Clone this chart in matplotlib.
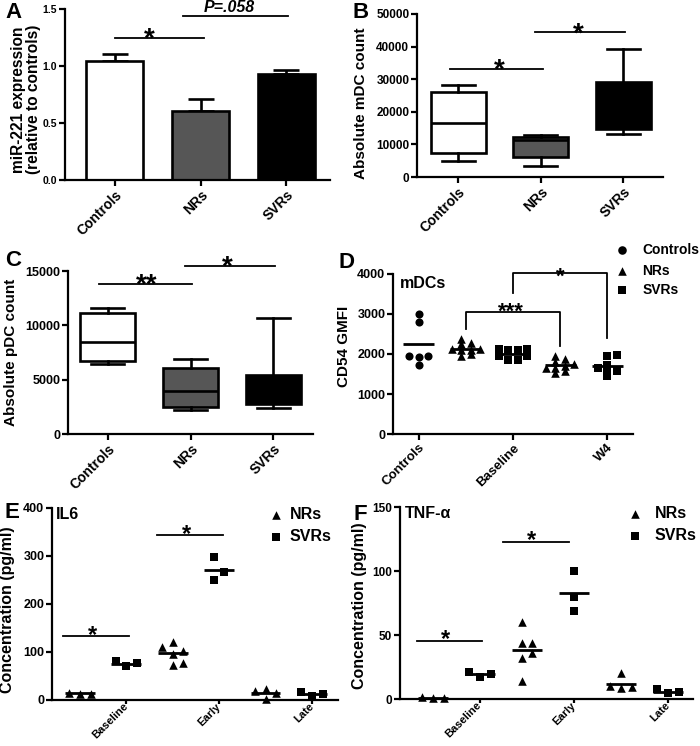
import matplotlib
matplotlib.use("Agg")
import matplotlib.pyplot as plt
import numpy as np
from matplotlib.transforms import offset_copy

plt.rcParams["font.family"] = ["Liberation Sans", "DejaVu Sans"]
plt.rcParams["font.weight"] = "bold"
plt.rcParams["axes.labelweight"] = "bold"

# ---- data ----
groups = ["Controls", "NRs", "SVRs"]

# A: miR-221 expression (mean, upper error bar)
mir221_mean = [1.044, 0.608, 0.93]
mir221_err = [0.058, 0.10, 0.035]

# B: absolute mDC count (whisker low, q1, median, q3, whisker high)
mdc_low = [5000, 3500, 13300]
mdc_q1 = [7500, 6000, 14700]
mdc_med = [16500, 11500, 20000]
mdc_q3 = [26000, 12200, 29200]
mdc_high = [28300, 13000, 39300]

# C: absolute pDC count
pdc_low = [6400, 2200, 2400]
pdc_q1 = [6700, 2500, 2800]
pdc_med = [8500, 4000, 4000]
pdc_q3 = [11100, 6100, 5400]
pdc_high = [11600, 6900, 10700]

# D: CD54 GMFI on mDCs
cd54_controls = [3000, 2800, 1944, 1944, 1920, 1720]
cd54_nr_base = [2376, 2280, 2240, 2130, 2120, 2110, 2100, 1990, 1940]
cd54_svr_base = [2120, 2120, 2110, 2110, 1960, 1944, 1856, 1856]
cd54_nr_w4 = [1960, 1880, 1800, 1740, 1700, 1660, 1640, 1580, 1520]
cd54_svr_w4 = [1976, 1944, 1720, 1656, 1576, 1576, 1456]
cd54_means = [2240, 2125, 1995, 1715, 1695]
cd54_ticklabels = ["Controls", "Baseline", "W4"]

# E: IL6 (pg/ml)
timepoints = ["Baseline", "Early", "Late"]
il6_nr = [[15, 12, 13], [120, 111, 102, 96, 78, 72], [19, 3, 14, 22]]
il6_svr = [[81, 70, 77], [298, 266, 250], [16, 8, 12]]
il6_nr_mean = [14, 97, 15]
il6_svr_mean = [76, 271, 12]

# F: TNF-alpha (pg/ml)
tnf_nr = [[1.2, 0.5, 1.0], [60, 44, 44, 36, 32, 14], [20.5, 10.4, 8.3, 9]]
tnf_svr = [[21, 17, 19.5], [100, 80, 69], [8, 4.4, 5.7]]
tnf_nr_mean = [1, 38.5, 12]
tnf_svr_mean = [19.5, 83, 5.5]

LW = 1.6
FILLS = ["white", "#565656", "black"]


def px_axes(fig, left, top, right, bottom):
    W, H = 700, 746
    return fig.add_axes([left / W, 1 - bottom / H, (right - left) / W, (bottom - top) / H])


def style(ax, ylim, yticks, ylabel, tsize, lsize, lx, ly):
    for s in ["top", "right"]:
        ax.spines[s].set_visible(False)
    for s in ["left", "bottom"]:
        ax.spines[s].set_linewidth(LW)
    ax.set_ylim(*ylim)
    ax.set_yticks(yticks)
    ax.tick_params(width=LW, length=4, labelsize=tsize, direction="out", pad=1.5)
    ax.set_ylabel(ylabel, fontsize=lsize, linespacing=1.0)
    ax.yaxis.set_label_coords(lx, ly)


def catlabels(ax, pos, labels, size, va="top"):
    ax.set_xticks(pos)
    ax.set_xticklabels(labels, rotation=45, ha="right", va=va, rotation_mode="anchor",
                       fontsize=size)


def star(ax, tx, ty, label, size):
    # place the asterisk glyph visually centred on (tx, ty)
    tr = offset_copy(ax.transData, fig=ax.figure, y=-0.33 * size, units="points")
    ax.text(tx, ty, label, ha="center", va="center", fontsize=size, fontweight="bold",
            transform=tr, clip_on=False)


def sig(ax, x1, x2, y, label, tx, ty, size=20):
    ax.plot([x1, x2], [y, y], color="black", lw=1.3, clip_on=False)
    star(ax, tx, ty, label, size)


def bracket(ax, x1, x2, y1, ytop, y2, label, tx, ty, size=16):
    ax.plot([x1, x1, x2, x2], [y1, ytop, ytop, y2], color="black", lw=1.3, clip_on=False)
    star(ax, tx, ty, label, size)


def swarm(vals, tol, step):
    vals = np.asarray(vals, dtype=float)
    offs = np.zeros(len(vals))
    placed = []
    for i in np.argsort(vals):
        for k in [0, 1, -1, 2, -2, 3, -3, 4, -4]:
            o = k * step
            if all(abs(o - po) >= step * 0.99 or abs(vals[i] - pv) >= tol for po, pv in placed):
                break
        offs[i] = o
        placed.append((o, vals[i]))
    return offs - (offs.max() + offs.min()) / 2


def dots(ax, x, vals, mean, marker, size, tol, step, half=0.33):
    offs = swarm(vals, tol, step)
    ax.scatter(x + offs, vals, marker=marker, s=size, color="black", linewidths=0,
               zorder=3, clip_on=False)
    ax.hlines(mean, x - half, x + half, color="black", lw=2, zorder=4)


def boxes(ax, low, q1, med, q3, high):
    stats = [dict(whislo=a, q1=b, med=c, q3=d, whishi=e)
             for a, b, c, d, e in zip(low, q1, med, q3, high)]
    art = ax.bxp(stats, positions=range(len(stats)), widths=0.67, patch_artist=True,
                 showfliers=False, capwidths=0.4,
                 boxprops=dict(linewidth=LW + 0.3, edgecolor="black"),
                 whiskerprops=dict(linewidth=LW + 0.3, color="black"),
                 capprops=dict(linewidth=LW + 0.3, color="black"),
                 medianprops=dict(linewidth=LW + 0.3, color="black"))
    for patch, c in zip(art["boxes"], FILLS):
        patch.set_facecolor(c)


def key(ax, xm, xt, ys, markers, labels, size):
    for y, m, lab in zip(ys, markers, labels):
        ax.scatter([xm], [y], marker=m, s=38, color="black", linewidths=0,
                   transform=ax.transAxes, clip_on=False)
        ax.text(xt, y, lab, transform=ax.transAxes, fontsize=size, fontweight="bold",
                va="center", ha="left")


fig = plt.figure(figsize=(7, 7.46), dpi=100)
fig.patch.set_facecolor("white")

# ---- A ----
axA = px_axes(fig, 65, 9, 330, 180)
xa = np.arange(len(groups))
axA.bar(xa, mir221_mean, width=0.66, color=FILLS, edgecolor="black", linewidth=LW + 0.3, zorder=2)
axA.errorbar(xa, mir221_mean, yerr=[np.zeros(3), mir221_err], fmt="none", ecolor="black",
             elinewidth=LW + 0.3, capsize=9.5, capthick=LW + 0.3, zorder=1)
axA.set_xlim(-0.58, 2.51)
style(axA, (0, 1.5), [0, 0.5, 1.0, 1.5], "miR-221 expression\n(relative to controls)",
      7.5, 11.2, -0.09, 0.47)
axA.set_yticklabels(["0.0", "0.5", "1.0", "1.5"])
catlabels(axA, xa, groups, 10)
sig(axA, 0.0, 1.04, 1.245, "*", 0.4, 1.316)
axA.plot([0.8, 2.02], [1.44, 1.44], color="black", lw=1.3, clip_on=False)
axA.text(1.33, 1.475, "P=.058", ha="center", va="baseline", fontsize=11.5,
         fontweight="bold", style="italic", clip_on=False)

# ---- B ----
axB = px_axes(fig, 417, 14, 663, 177)
boxes(axB, mdc_low, mdc_q1, mdc_med, mdc_q3, mdc_high)
axB.set_xlim(-0.5, 2.48)
style(axB, (0, 50000), range(0, 50001, 10000), "Absolute mDC count", 8.5, 11, -0.2, 0.45)
catlabels(axB, range(3), groups, 10)
sig(axB, -0.1, 1.03, 33000, "*", 0.5, 35300)
sig(axB, 0.93, 2.02, 44500, "*", 1.45, 46600)

# ---- C ----
axC = px_axes(fig, 68, 271, 313, 434)
boxes(axC, pdc_low, pdc_q1, pdc_med, pdc_q3, pdc_high)
axC.set_xlim(-0.48, 2.48)
style(axC, (0, 15000), [0, 5000, 10000, 15000], "Absolute pDC count", 9, 11, -0.205, 0.5)
catlabels(axC, range(3), groups, 10)
sig(axC, -0.1, 1.02, 13800, "**", 0.47, 14540)
sig(axC, 0.93, 2.02, 15460, "*", 1.45, 16200)

# ---- D ----
axD = px_axes(fig, 393, 274, 633, 434)
d_sets = [cd54_controls, cd54_nr_base, cd54_svr_base, cd54_nr_w4, cd54_svr_w4]
d_marks = [("o", 34), ("^", 38), ("s", 32), ("^", 38), ("s", 32)]
for i, (vals, (m, s)) in enumerate(zip(d_sets, d_marks)):
    dots(axD, i, vals, cd54_means[i], m, s, tol=115, step=0.2)
axD.set_xlim(-0.55, 4.55)
style(axD, (0, 4000), range(0, 4001, 1000), "CD54 GMFI", 9, 11, -0.175, 0.55)
catlabels(axD, [0, 2, 4], cd54_ticklabels, 9.5)
bracket(axD, 1, 3, 2616, 3056, 2200, "***", 1.95, 3225)
bracket(axD, 2, 4, 3517, 4017, 2390, "*", 3.0, 4100)
axD.text(0.03, 0.94, "mDCs", transform=axD.transAxes, fontsize=11.5, fontweight="bold", va="center")
key(axD, 0.954, 1.04, [1.15, 1.019, 0.9], ["o", "^", "s"], groups, 10)


# ---- E and F ----
def cytokine(ax, nr, svr, nr_mean, svr_mean, ylim, yticks, tol, name, tsize, lx, ly, kx):
    for t in range(3):
        dots(ax, 2 * t, nr[t], nr_mean[t], "^", 38, tol=tol, step=0.23, half=0.32)
        dots(ax, 2 * t + 1, svr[t], svr_mean[t], "s", 34, tol=tol, step=0.23, half=0.32)
    style(ax, ylim, yticks, "Concentration (pg/ml)", tsize, 11.5, lx, ly)
    catlabels(ax, [1, 3, 5], timepoints, 8, va="center")
    ax.tick_params(axis="x", length=3, pad=0.5)
    ax.text(0.015, 0.965, name, transform=ax.transAxes, fontsize=11.5, fontweight="bold",
            va="center")
    key(ax, kx[0], kx[1], [0.966, 0.85], ["^", "s"], ["NRs", "SVRs"], 11.5)


axE = px_axes(fig, 52, 508, 338, 700)
cytokine(axE, il6_nr, il6_svr, il6_nr_mean, il6_svr_mean, (0, 400), range(0, 401, 100), 17,
         "IL6", 9, -0.13, 0.47, (0.783, 0.832))
axE.set_xlim(-0.6, 5.56)
sig(axE, -0.37, 1.06, 133, "*", 0.28, 150, size=17)
sig(axE, 1.67, 3.09, 344, "*", 2.3, 360, size=17)

axF = px_axes(fig, 400, 507, 693, 699)
cytokine(axF, tnf_nr, tnf_svr, tnf_nr_mean, tnf_svr_mean, (0, 150), [0, 50, 100, 150], 6.3,
         "TNF-α", 8.5, -0.113, 0.485, (0.802, 0.87))
axF.set_xlim(-0.7, 5.53)
sig(axF, -0.34, 1.04, 45.5, "*", 0.26, 52.3, size=17)
sig(axF, 1.49, 2.89, 122.7, "*", 2.1, 129.7, size=17)

# panel letters
for letter, x, y in [("A", 5, 13), ("B", 352, 13), ("C", 5, 261), ("D", 338, 262),
                     ("E", 5, 512), ("F", 354, 514)]:
    fig.text(x / 700, 1 - y / 746, letter, fontsize=16, fontweight="bold", va="center", ha="left")

fig.savefig("out.png", dpi=100, facecolor="white")
